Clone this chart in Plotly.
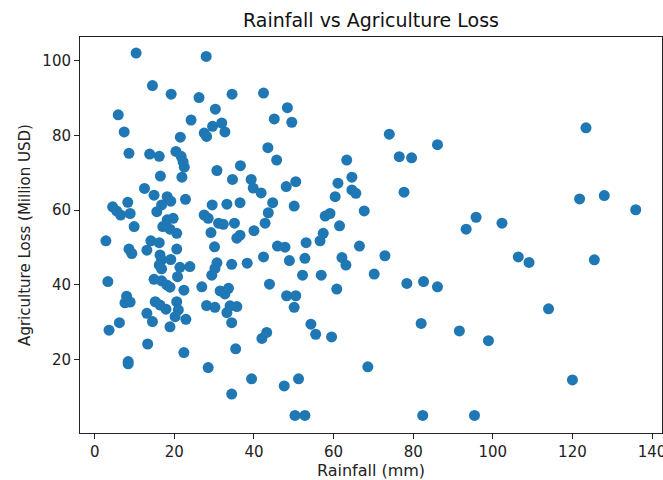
import plotly.graph_objects as go

rainfall = [10.4, 28.0, 14.5, 19.2, 26.2, 34.5, 42.4, 30.3, 5.9, 24.2,
            45.1, 7.4, 29.6, 31.9, 32.7, 27.5, 28.1, 21.5, 43.5, 8.6,
            13.8, 16.2, 20.4, 21.7, 22.2, 22.5, 45.7, 36.6, 30.7, 48.4,
            49.5, 74.0, 86.1, 63.3, 76.5, 79.6, 123.4, 16.5, 21.9, 34.6,
            39.3, 12.5, 14.9, 18.2, 19.1, 22.8, 39.8, 41.8, 8.3, 4.5,
            5.5, 6.5, 8.9, 16.8, 15.6, 29.5, 33.2, 36.5, 44.7, 43.6,
            27.5, 28.5, 18.2, 19.7, 31.1, 32.3, 35.1, 42.8, 9.9, 17.1,
            18.9, 20.6, 29.2, 40.0, 36.5, 35.7, 2.8, 14.1, 16.2, 30.1,
            45.9, 8.6, 9.3, 13.1, 20.6, 16.4, 16.8, 19.1, 42.4, 16.2,
            16.8, 21.4, 23.9, 30.7, 30.2, 29.4, 34.4, 38.3, 20.8, 14.9,
            16.8, 18.1, 18.9, 3.3, 43.9, 22.4, 26.9, 31.5, 33.6, 32.7,
            8.0, 7.6, 8.9, 15.2, 16.4, 17.9, 20.6, 21.0, 20.2, 28.1,
            30.2, 34.0, 35.7, 33.2, 13.1, 14.5, 18.9, 22.9, 6.2, 3.6,
            34.4, 42.0, 43.2, 13.3, 22.4, 35.4, 8.4, 8.4, 28.5, 39.4,
            34.4, 47.6, 64.6, 61.1, 48.1, 50.5, 64.6, 65.6, 60.4, 77.7,
            50.1, 67.7, 57.9, 59.1, 61.5, 93.3, 57.4, 56.6, 47.8, 53.1,
            66.5, 72.9, 48.9, 52.8, 62.1, 63.1, 52.2, 56.9, 70.2, 78.4,
            82.6, 86.1, 60.8, 48.2, 50.5, 50.1, 54.3, 55.5, 59.5, 82.0,
            91.6, 68.6, 51.2, 50.3, 52.8, 82.4, 95.4, 114.0, 98.9, 120.0,
            95.8, 102.3, 121.8, 128.0, 135.9, 106.4, 109.1, 125.5]

loss = [102.0, 101.1, 93.3, 91.0, 90.1, 91.0, 91.3, 87.0, 85.5, 84.1,
        84.4, 80.9, 82.4, 83.3, 80.9, 80.6, 79.7, 79.5, 76.7, 75.2,
        75.0, 74.4, 75.7, 74.4, 72.9, 71.5, 73.4, 71.9, 70.6, 87.4,
        83.5, 80.3, 77.5, 73.4, 74.3, 74.0, 82.0, 69.1, 68.8, 68.2,
        68.2, 65.8, 64.0, 63.6, 62.4, 62.9, 65.9, 64.6, 62.1, 60.9,
        59.8, 58.7, 59.1, 61.4, 59.6, 61.4, 61.6, 62.0, 62.0, 59.3,
        58.7, 57.8, 57.4, 57.8, 56.5, 56.2, 56.5, 56.5, 55.6, 55.6,
        54.9, 53.8, 54.0, 54.5, 53.3, 52.5, 51.8, 51.8, 51.3, 50.2,
        50.4, 49.6, 48.4, 49.3, 49.6, 48.0, 46.7, 46.8, 47.5, 45.3,
        44.3, 44.7, 44.9, 45.9, 44.4, 42.6, 45.5, 45.8, 42.2, 41.5,
        41.1, 40.0, 39.4, 40.9, 40.2, 38.6, 39.5, 38.4, 39.1, 37.6,
        37.0, 35.2, 35.4, 35.5, 34.6, 33.5, 35.5, 33.3, 31.5, 34.5,
        34.0, 34.4, 34.2, 32.6, 32.4, 30.2, 28.8, 30.8, 29.9, 27.9,
        29.9, 25.7, 27.3, 24.2, 21.9, 22.9, 19.5, 18.9, 17.9, 14.9,
        10.8, 13.0, 68.8, 67.2, 66.3, 67.6, 65.4, 64.5, 63.6, 64.8,
        61.1, 59.8, 58.4, 59.1, 55.8, 54.9, 53.8, 51.8, 50.1, 51.3,
        50.4, 47.8, 46.5, 47.1, 47.3, 45.3, 42.6, 42.6, 42.9, 40.4,
        40.9, 39.5, 38.9, 37.1, 37.1, 34.0, 29.5, 26.8, 26.1, 29.7,
        27.7, 18.1, 14.9, 5.1, 5.1, 5.1, 5.1, 33.6, 25.1, 14.6,
        58.1, 56.5, 63.0, 63.9, 60.1, 47.5, 46.0, 46.7]

x_ticks = [0, 20, 40, 60, 80, 100, 120, 140]
y_ticks = [20, 40, 60, 80, 100]

fig = go.Figure(go.Scatter(
    x=rainfall, y=loss, mode="markers",
    marker=dict(color="#1f77b4", size=11, line=dict(width=0)),
))

font = "DejaVu Sans, Liberation Sans, sans-serif"
axis_common = dict(
    showgrid=False, zeroline=False, showline=True, linecolor="#222",
    linewidth=1, mirror=True, ticks="outside", ticklen=5, tickcolor="#222",
    tickfont=dict(family=font, size=15, color="#222"), automargin=False,
)

fig.update_layout(
    width=663, height=480,
    margin=dict(l=80, r=1, t=37, b=47),
    paper_bgcolor="white", plot_bgcolor="white",
    showlegend=False,
    title=dict(text="Rainfall vs Agriculture Loss", x=(80 + 662) / 2 / 663,
               xanchor="center", y=1 - 20 / 480, yanchor="middle",
               yref="container", automargin=False,
               font=dict(family=font, size=19, color="#111")),
    xaxis=dict(range=[-3.7, 142.5], tickvals=x_ticks,
               ticklabeloverflow="allow",
               title=dict(text="Rainfall (mm)", standoff=4,
                          font=dict(family=font, size=16, color="#222")),
               **axis_common),
    yaxis=dict(range=[0.4, 106.3], tickvals=y_ticks,
               title=dict(text="Agriculture Loss (Million USD)", standoff=8,
                          font=dict(family=font, size=15, color="#222")),
               **axis_common),
)

fig.write_html("out.html")
